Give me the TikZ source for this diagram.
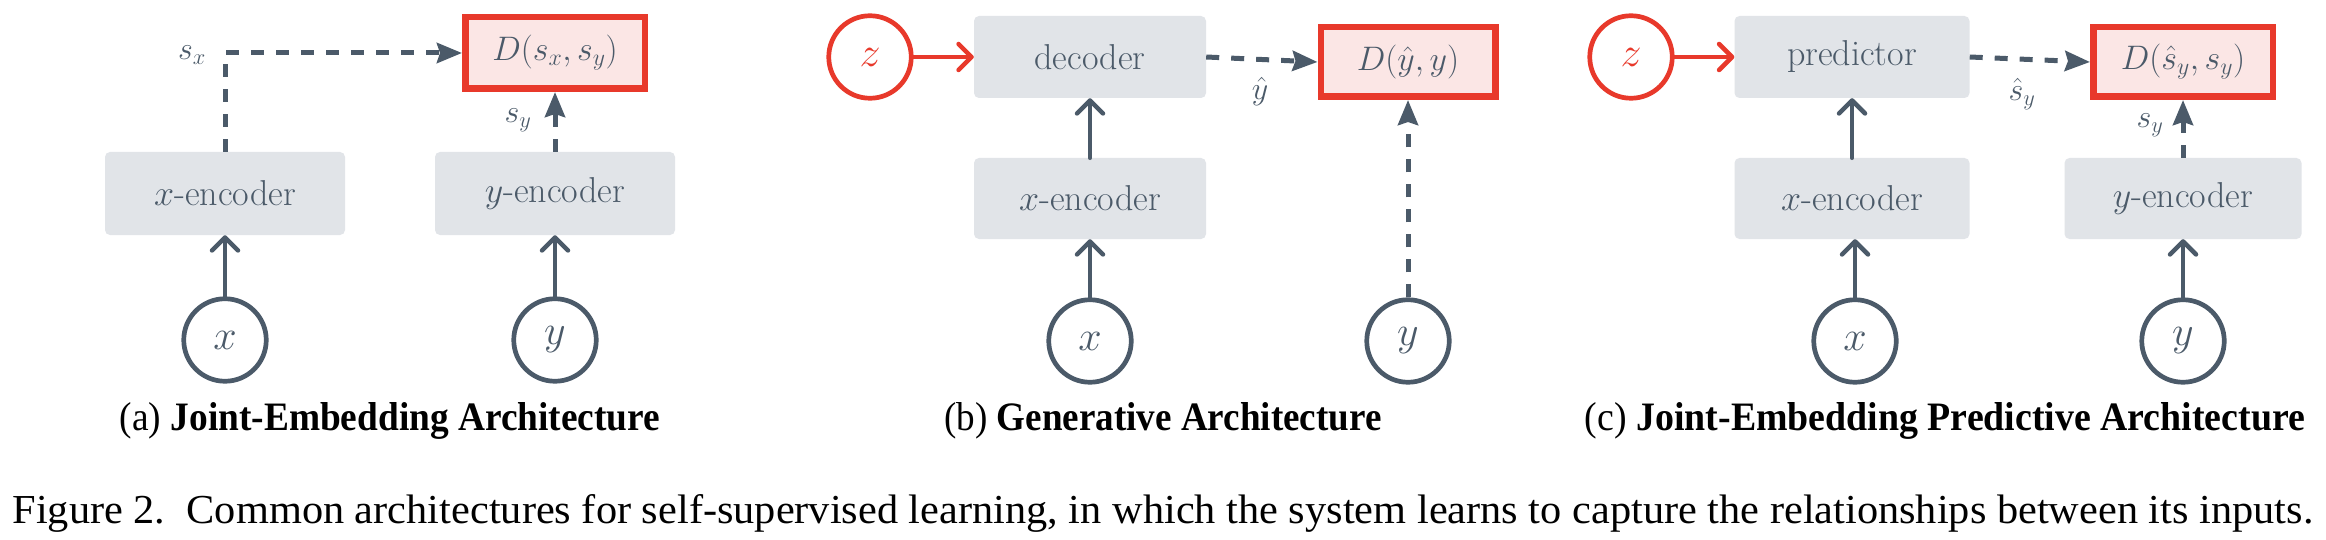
\RequirePackage{fix-cm}
\documentclass[tikz,border=0pt]{standalone}
\usepackage{fontspec}
\usepackage{graphicx}
\usetikzlibrary{arrows.meta}
\newfontfamily\capfont{Liberation Serif}
\definecolor{slate}{HTML}{4B5A69}
\definecolor{boxgray}{HTML}{E1E4E8}
\definecolor{redc}{HTML}{E8392B}
\definecolor{pinkc}{HTML}{FBE6E5}
\tikzset{
  blk/.style={fill=boxgray, rounded corners=5pt, inner sep=0pt, text=slate,
    font=\fontsize{36}{40}\selectfont},
  dbox/.style={fill=pinkc, draw=redc, line width=6.5pt, inner sep=0pt, text=slate,
    minimum width=179.5pt, minimum height=71.5pt, font=\fontsize{34}{38}\selectfont},
  var/.style={circle, draw=slate, line width=4.7pt, minimum size=82.5pt, inner sep=0pt,
    text=slate, font=\fontsize{42}{46}\selectfont},
  zvar/.style={var, draw=redc, text=redc},
  solidarr/.style={draw=slate, line width=4.5pt, line cap=round,
    -{Straight Barb[length=13pt,width=26pt,line cap=round,round]}},
  redarr/.style={solidarr, draw=redc},
  dasharr/.style={draw=slate, line width=5pt, dash pattern=on 13pt off 12pt,
    -{Stealth[length=25pt,width=20pt,inset=3pt]}},
  lbl/.style={text=slate, inner sep=0pt, font=\fontsize{32}{36}\selectfont},
  subcap/.style={anchor=base, inner sep=0pt, text=black},
}
\begin{document}
\begin{tikzpicture}[x=1pt,y=-1pt]
\useasboundingbox[fill=white] (0,0) rectangle (2326,540);

% ---------------- (a) Joint-Embedding Architecture ----------------
\node[dbox, minimum width=179.5pt, minimum height=71.5pt] (aD) at (555,53) {$D(s_x,s_y)$};
\node[blk, minimum width=240pt, minimum height=83pt] (axe) at (225,193.5) {$x$-encoder};
\node[blk, minimum width=240pt, minimum height=83pt] (aye) at (555,193.5) {$y$-encoder};
\node[var] (ax) at (225,340) {$x$};
\node[var] (ay) at (555,340) {$y$};
\draw[solidarr] (ax) -- (axe);
\draw[solidarr] (ay) -- (aye);
\draw[dasharr] (axe.north) |- (aD.west);
\draw[dasharr] (aye.north) -- (aD.south);
\node[lbl] (asx) at (192,55) {$s_x$};
\node[lbl] (asy) at (518,120) {$s_y$};
\node[subcap] (capa) at (390,430) {\resizebox{540pt}{28pt}{\capfont (a) \textbf{Joint-Embedding Architecture}}};

% ---------------- (b) Generative Architecture ----------------
\node[zvar] (bz) at (870,57) {$z$};
\node[blk, minimum width=232pt, minimum height=82pt] (bdec) at (1090,57) {decoder};
\node[blk, minimum width=232pt, minimum height=81pt] (bxe) at (1090,198.5) {$x$-encoder};
\node[dbox, minimum width=174.5pt, minimum height=69.5pt] (bD) at (1408,62) {$D(\hat{y},y)$};
\node[var] (bx) at (1090,341) {$x$};
\node[var] (by) at (1408,341) {$y$};
\draw[redarr] (bz) -- (bdec);
\draw[solidarr] (bx) -- (bxe);
\draw[solidarr] (bxe) -- (bdec);
\draw[dasharr] (bdec.east) -- (bD.west);
\draw[dasharr] (by) -- (bD.south);
\node[lbl] (byh) at (1260,92) {$\hat{y}$};
\node[subcap] (capb) at (1163,430) {\resizebox{437pt}{28pt}{\capfont (b) \textbf{Generative Architecture}}};

% ---------------- (c) Joint-Embedding Predictive Architecture ----------------
\node[zvar] (cz) at (1631,57) {$z$};
\node[blk, minimum width=235pt, minimum height=82pt] (cpred) at (1852,57) {predictor};
\node[blk, minimum width=235pt, minimum height=81pt] (cxe) at (1852,198.5) {$x$-encoder};
\node[blk, minimum width=237pt, minimum height=81pt] (cye) at (2183,198.5) {$y$-encoder};
\node[dbox, minimum width=179.5pt, minimum height=69.5pt] (cD) at (2183,62) {$D(\hat{s}_y,s_y)$};
\node[var] (cx) at (1855,341) {$x$};
\node[var] (cy) at (2183,341) {$y$};
\draw[redarr] (cz) -- (cpred);
\draw[solidarr] (cx) -- (cx |- cxe.south);
\draw[solidarr] (cxe) -- (cpred);
\draw[solidarr] (cy) -- (cye);
\draw[dasharr] (cpred.east) -- (cD.west);
\draw[dasharr] (cye.north) -- (cD.south);
\node[lbl] (cshat) at (2022,94) {$\hat{s}_y$};
\node[lbl] (csy) at (2150,125) {$s_y$};
\node[subcap] (capc) at (1945,430) {\resizebox{720pt}{28pt}{\capfont (c) \textbf{Joint-Embedding Predictive Architecture}}};

% ---------------- Figure caption ----------------
\node[subcap] (figcap) at (1163,523) {\resizebox{2300pt}{29pt}{\capfont Figure 2.\hspace{0.5em}Common architectures for self-supervised learning, in which the system learns to capture the relationships between its inputs.}};
\end{tikzpicture}
\end{document}
